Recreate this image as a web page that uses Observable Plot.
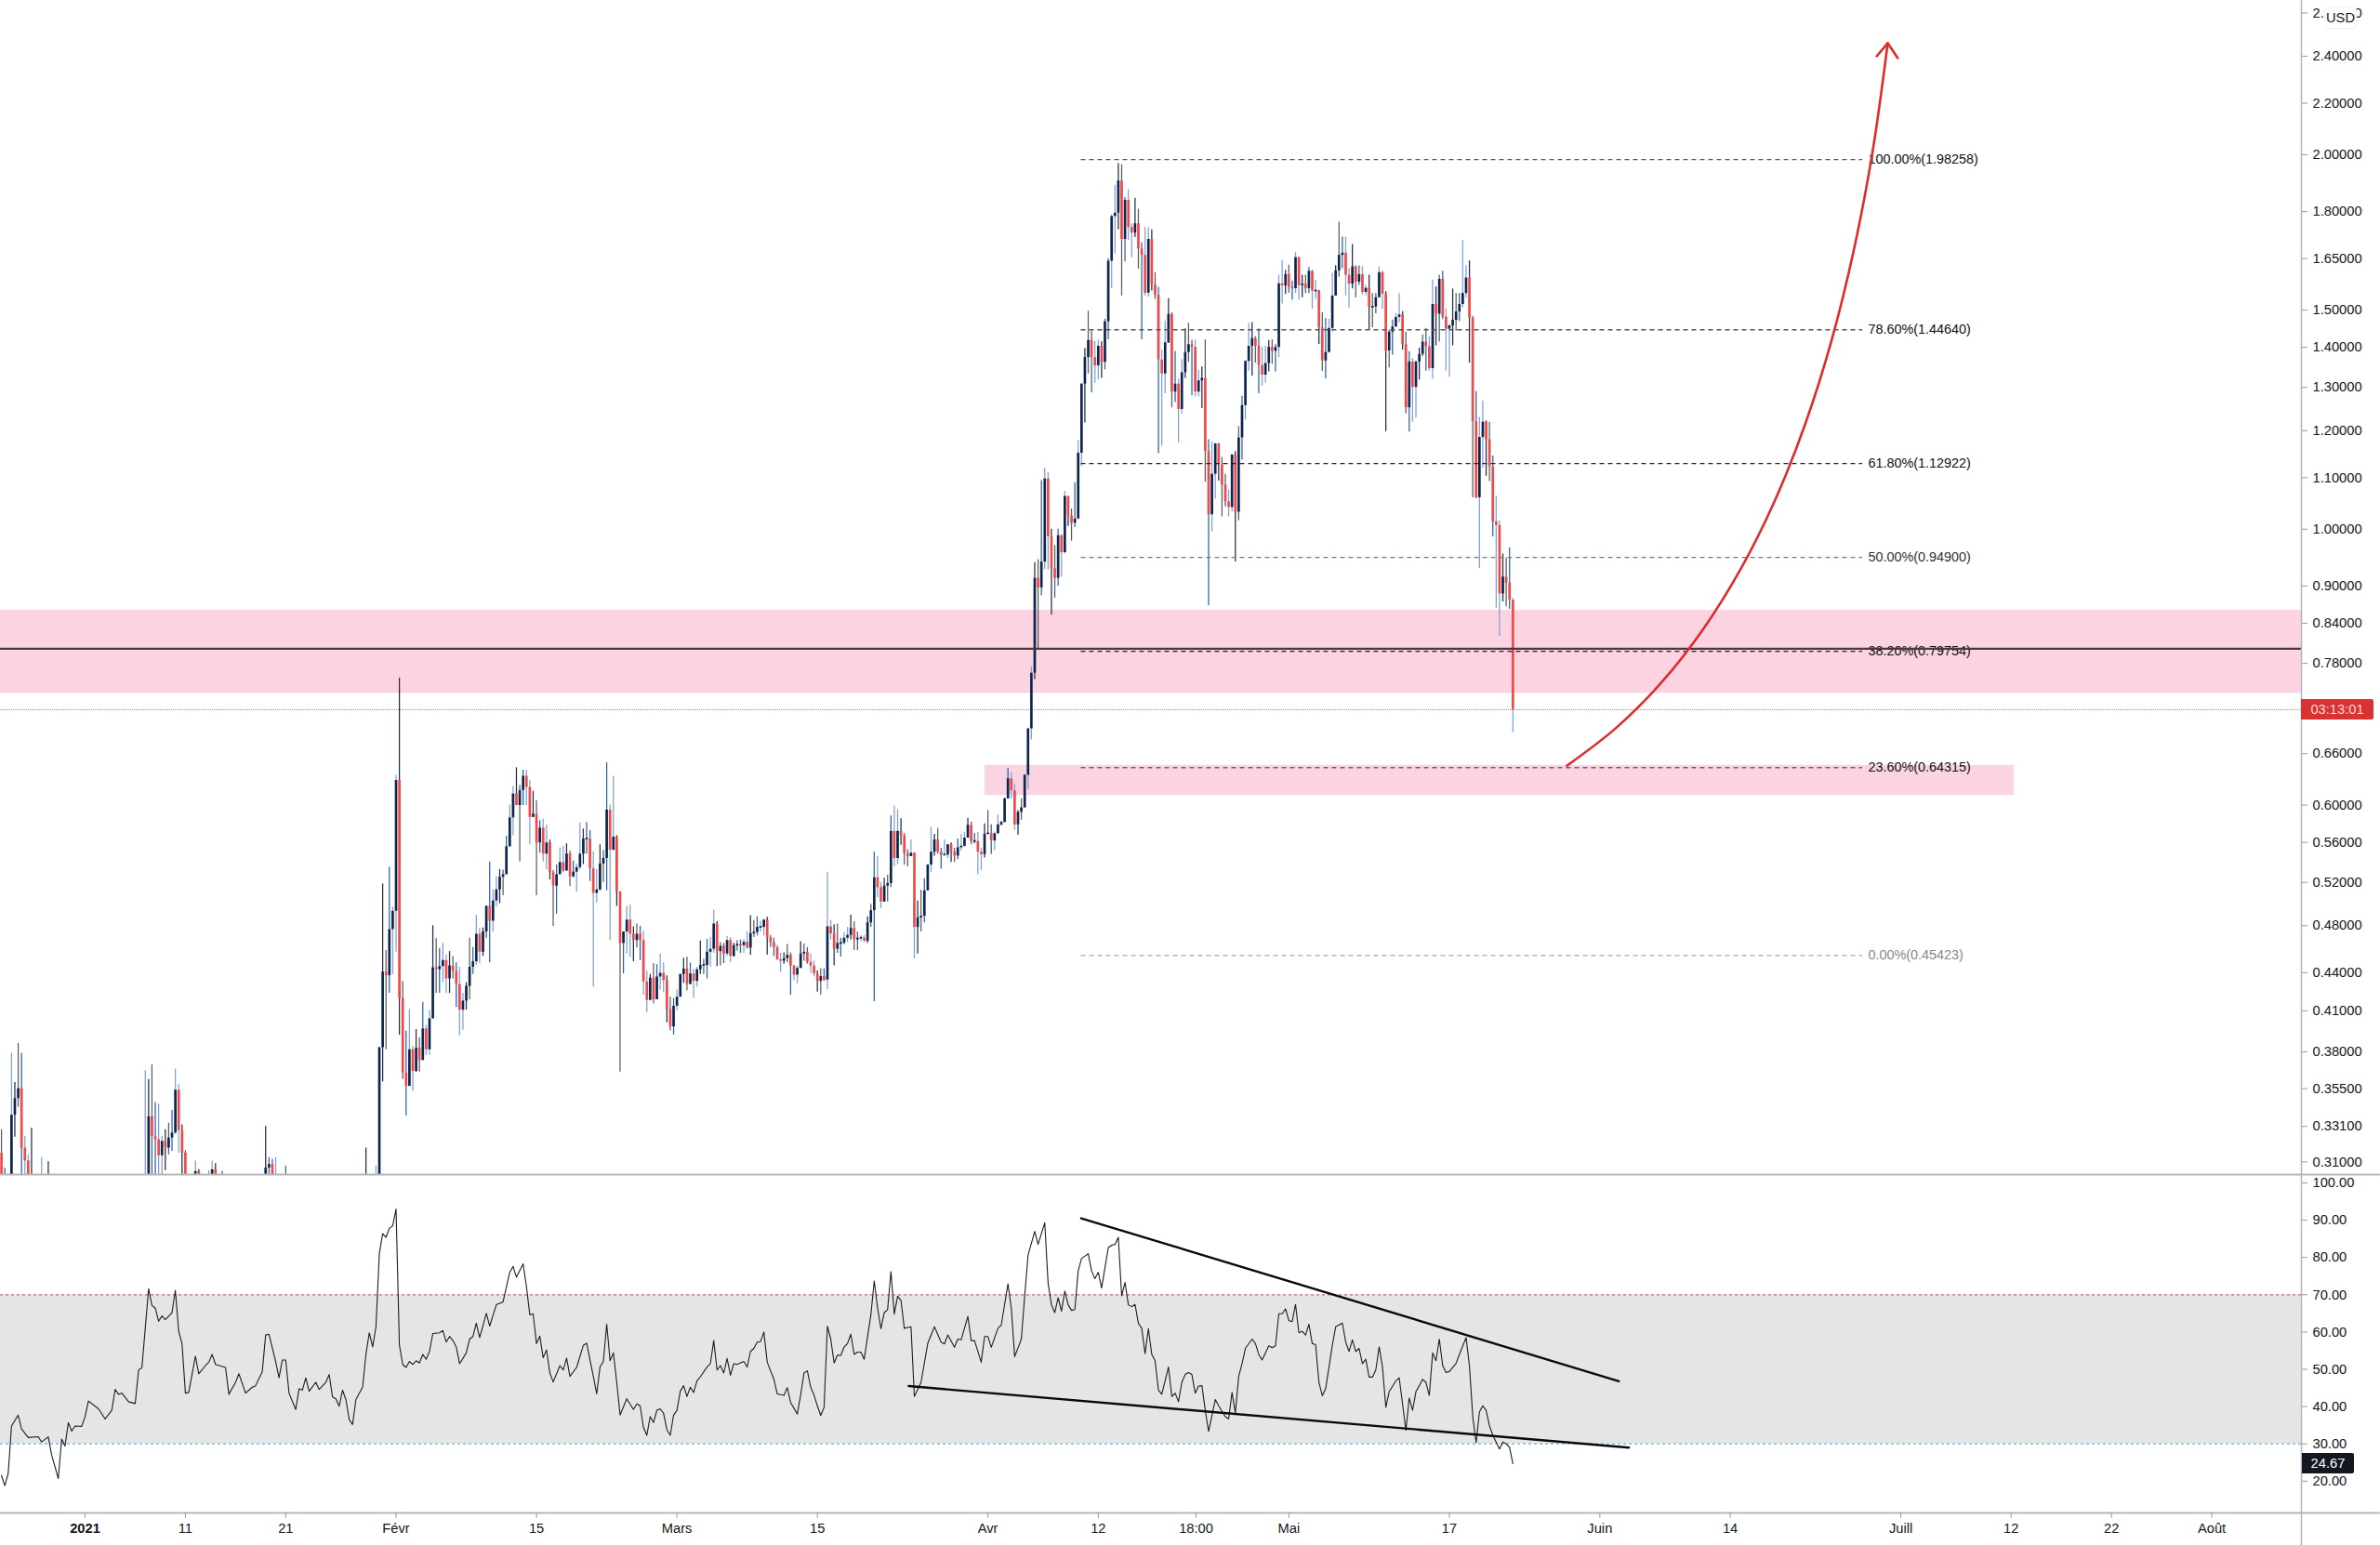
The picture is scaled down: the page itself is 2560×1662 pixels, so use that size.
<!DOCTYPE html>
<html>
<head>
<meta charset="utf-8">
<script src="https://cdn.jsdelivr.net/npm/d3@7"></script>
<script src="https://cdn.jsdelivr.net/npm/@observablehq/plot@0.6"></script>
<style>
html,body{margin:0;padding:0;background:#fff;overflow:hidden}
#chart{position:relative;width:2560px;height:1662px;font-family:"Liberation Sans",sans-serif}
#chart svg{display:block}
.tag{position:absolute;box-sizing:border-box;display:flex;align-items:center;justify-content:center;font-size:14.7px}
</style>
</head>
<body>
<div id="chart"></div>
<script>
// ---- 8-hour candles, one entry per candle; null = beyond the bottom of the price pane
const firstOpen = 0.315;
const closes = [
.29,null,null,.338,.3485,.355,.318,.3105,.295,null,
null,null,null,null,null,...Array(28).fill(null),
null,.337,.325,.323,.3135,.322,.318,.324,.327,
.354,.3285,.315,.29,null,null,.3045,.30,null,null,
null,.3055,.30,null,null,...Array(12).fill(null),
.3065,.3085,.30,null,null,null,null,...Array(23).fill(null),
null,null,null,null,.383,
.4405,.4375,.4765,.493,.628,.4195,.3655,.3565,.3815,.3665,
.3825,.374,.3965,.3815,.404,.444,.4425,.445,.45,.435,
.4455,.441,.4305,.4105,.4175,.429,.4445,.449,.4725,.457,
.4745,.4975,.484,.5025,.513,.525,.5275,.5555,.586,.6125,
.5995,.6165,.633,.62,.5865,.59,.5595,.575,.548,.5595,
.5295,.5165,.5275,.5395,.531,.548,.5255,.53,.5345,.548,
.5635,.5635,.5335,.5095,.513,.538,.5437,.5945,.552,.5655,
.511,.4645,.4745,.485,.4725,.467,.4725,.467,.4325,.418,
.4355,.4185,.4365,.4395,.4335,.411,.398,.4135,.4205,.4385,
.443,.4305,.439,.433,.4425,.446,.446,.457,.4595,.4815,
.4575,.462,.4555,.467,.4535,.4625,.4635,.4625,.4655,.4605,
.473,.474,.4785,.4785,.485,.4692,.4652,.461,.4505,.4495,
.4515,.4545,.4455,.438,.4435,.4555,.457,.4485,.4455,.439,
.433,.4368,.434,.479,.4728,.4595,.4645,.4645,.469,.4715,
.4775,.4675,.469,.469,.4665,.4825,.4935,.5245,.515,.5015,
.5165,.519,.5715,.5435,.5715,.5665,.5485,.5455,.549,.4785,
.487,.4885,.512,.537,.55,.5625,.55,.547,.547,.5575,
.55,.546,.5545,.556,.5645,.578,.561,.561,.55,.5475,
.5685,.5695,.5615,.569,.5785,.581,.607,.63,.616,.5785,
.592,.597,.634,.691,.766,.913,.897,.941,1.0975,.986,
.9295,.913,.988,.9575,1.0625,1.025,1.011,1.019,1.151,1.308,
1.374,1.418,1.374,1.353,1.403,1.362,1.468,1.642,1.784,1.795,
1.905,1.71,1.838,1.748,1.73,1.76,1.68,1.66,1.548,1.71,
1.572,1.542,1.368,1.333,1.412,1.488,1.289,1.308,1.248,1.336,
1.387,1.407,1.4,1.289,1.316,1.322,1.155,1.027,1.107,1.171,
1.126,1.085,1.052,1.041,1.147,1.032,1.184,1.257,1.364,1.403,
1.423,1.403,1.354,1.33,1.359,1.4,1.39,1.4,1.575,1.569,
1.602,1.565,1.5607,1.653,1.57,1.574,1.5607,1.612,1.554,1.554,
1.452,1.3655,1.387,1.45,1.54,1.613,1.66,1.667,1.6,1.574,
1.625,1.58,1.602,1.55,1.562,1.508,1.509,1.535,1.608,1.545,
1.391,1.44,1.454,1.48,1.487,1.407,1.252,1.363,1.3,1.363,
1.382,1.414,1.402,1.346,1.516,1.489,1.588,1.481,1.448,1.457,
1.472,1.495,1.516,1.547,1.592,1.478,1.22,1.06,1.185,1.219,
1.18,1.122,1.014,1.007,.887,.915,.905,.877,.716
];
const highs = [
.329,.3065,null,.379,.359,.386,.379,.325,.314,.33,
null,null,.3125,null,.31,...Array(28).fill(null),
.367,.361,.371,.346,.345,.325,.329,.333,.341,
.368,.358,.332,.3165,null,null,.3105,.3055,null,null,
.305,.3105,.309,null,.3045,...Array(12).fill(null),
.331,.3125,.3115,.3125,null,null,.3075,...Array(23).fill(null),
.318,null,null,.3075,.383,
.5185,.4585,.535,.497,.634,.759,.433,.395,.411,.384,
.396,.39,.4165,.399,.4105,.48,.4685,.46,.4645,.4545,
.4575,.4535,.448,.4445,.4235,.432,.469,.461,.4895,.478,
.478,.498,.54,.5125,.5255,.5325,.532,.5665,.6,.621,
.643,.6225,.64,.64,.628,.6155,.605,.583,.5845,.578,
.5625,.5315,.537,.5545,.556,.5585,.551,.541,.538,.5805,
.574,.581,.5725,.5505,.5325,.5575,.5515,.649,.6,.633,
.567,.511,.4745,.4975,.4985,.479,.4815,.4795,.475,.4415,
.4385,.4475,.4465,.4555,.448,.4375,.4205,.4195,.426,.439,
.452,.453,.448,.4425,.4445,.4665,.451,.468,.4695,.494,
.4835,.4652,.4645,.4705,.4695,.4645,.467,.4675,.4675,.4745,
.489,.4845,.488,.484,.4855,.4875,.4715,.469,.463,.456,
.4565,.4635,.4565,.4462,.4455,.466,.464,.461,.4555,.4495,
.4415,.4432,.4432,.53,.4848,.4808,.4815,.469,.474,.4785,
.4895,.4835,.4745,.4715,.4715,.488,.4995,.55,.5455,.52,
.524,.527,.588,.599,.595,.585,.5695,.5525,.5625,.5495,
.5025,.5125,.5235,.5375,.576,.5685,.5745,.554,.5625,.558,
.5595,.554,.5635,.5685,.5705,.5855,.5815,.5695,.5705,.554,
.5795,.594,.5785,.571,.5895,.582,.608,.6425,.637,.6235,
.594,.607,.635,.692,.775,.94,.945,1.094,1.12,1.11,
1.0,.97,1.0,.99,1.0725,1.062,1.038,1.09,1.179,1.31,
1.397,1.497,1.443,1.415,1.419,1.415,1.475,1.65,1.79,1.89,
1.967,1.963,1.848,1.875,1.76,1.845,1.808,1.70,1.748,1.747,
1.74,1.608,1.565,1.393,1.47,1.532,1.493,1.39,1.32,1.369,
1.449,1.464,1.419,1.419,1.342,1.35,1.42,1.18,1.176,1.172,
1.172,1.142,1.107,1.075,1.149,1.155,1.209,1.279,1.367,1.464,
1.466,1.428,1.449,1.4,1.403,1.418,1.42,1.407,1.6,1.645,
1.615,1.63,1.583,1.669,1.655,1.6,1.60,1.623,1.615,1.585,
1.556,1.493,1.477,1.475,1.606,1.629,1.765,1.717,1.717,1.62,
1.694,1.628,1.628,1.626,1.57,1.6,1.547,1.547,1.626,1.612,
1.552,1.445,1.473,1.49,1.547,1.496,1.44,1.389,1.372,1.365,
1.398,1.433,1.45,1.428,1.586,1.566,1.6,1.612,1.503,1.46,
1.56,1.547,1.547,1.706,1.629,1.643,1.483,1.29,1.23,1.268,
1.222,1.219,1.145,1.063,1.016,.955,.948,.966,.88
];
const lows = [
null,null,null,null,.3245,.343,null,null,null,null,
null,null,null,null,null,...Array(28).fill(null),
null,null,null,null,null,null,.305,.314,.316,
.326,.315,null,null,null,null,null,null,null,null,
null,null,null,null,null,...Array(12).fill(null),
null,null,null,null,null,null,null,...Array(23).fill(null),
null,null,null,null,null,
.3595,.3815,.4235,.4385,.457,.392,.361,.3375,.3565,.353,
.366,.366,.374,.3775,.3775,.404,.4235,.4235,.432,.4235,
.4235,.435,.4125,.3915,.3955,.4105,.4185,.4385,.446,.4475,
.4535,.469,.448,.4745,.497,.5,.5075,.5275,.555,.567,
.5995,.54,.5995,.5995,.5575,.5865,.5075,.549,.54,.5325,
.5225,.4795,.4905,.5275,.5295,.5325,.516,.5245,.511,.5325,
.5375,.548,.521,.4285,.5005,.512,.52,.512,.467,.551,
.4975,.366,.439,.4555,.4525,.449,.4605,.45,.422,.4085,
.418,.4155,.424,.426,.424,.401,.395,.392,.41,.4205,
.4315,.4255,.4305,.4195,.4285,.4385,.4385,.435,.4445,.456,
.445,.4455,.4475,.4535,.4485,.453,.458,.456,.456,.4595,
.4545,.4695,.471,.4745,.471,.4545,.461,.4535,.45,.4405,
.447,.448,.422,.4335,.431,.4435,.4495,.447,.4395,.4365,
.4245,.422,.433,.4265,.4675,.4455,.456,.453,.463,.4652,
.4675,.4585,.4585,.466,.4652,.4645,.4785,.417,.5055,.4955,
.5015,.5015,.515,.5355,.537,.557,.537,.5355,.5455,.4515,
.4555,.4745,.4825,.512,.5295,.546,.548,.533,.5465,.5435,
.5395,.5395,.5425,.551,.555,.5645,.5575,.5585,.5275,.5315,
.544,.5685,.5475,.5515,.5685,.5775,.581,.607,.607,.5725,
.5675,.5835,.597,.618,.677,.757,.80,.884,.928,.927,
.853,.88,.9,.915,.955,1.005,.978,1.003,1.018,1.123,
1.217,1.333,1.287,1.31,1.318,1.322,1.343,1.42,1.561,1.665,
1.74,1.54,1.64,1.706,1.653,1.716,1.618,1.42,1.54,1.536,
1.554,1.53,1.15,1.166,1.285,1.41,1.252,1.264,1.173,1.238,
1.322,1.362,1.28,1.2775,1.2775,1.25,1.091,.868,.995,1.057,
1.093,1.023,1.042,1.023,1.033,.941,1.016,1.137,1.224,1.34,
1.327,1.36,1.285,1.303,1.31,1.338,1.357,1.338,1.374,1.517,
1.544,1.548,1.528,1.5467,1.528,1.535,1.547,1.547,1.503,1.53,
1.408,1.339,1.321,1.385,1.44,1.54,1.594,1.62,1.54,1.506,
1.56,1.534,1.57,1.542,1.54,1.445,1.452,1.49,1.533,1.503,
1.198,1.348,1.38,1.452,1.465,1.393,1.238,1.197,1.219,1.229,
1.318,1.376,1.34,1.34,1.32,1.404,1.414,1.474,1.34,1.325,
1.404,1.443,1.469,1.506,1.534,1.36,1.06,1.058,.93,1.12,
1.103,1.092,.986,.864,.82,.874,.866,.862,.686
];
// ---- RSI turning points: candle number and value
const rsiIdx = [0,1,2,3,5,6,8,11,12,14,15,17,18,19,20,21,22,24,25,26,29,31,33,34,35,36,38,40,41,42,44,45,46,47,48,49,51,52,53,54,55,56,58,59,61,62,63,64,67,68,70,71,73,75,76,78,79,80,82,83,84,85,86,88,89,90,91,92,94,95,97,98,99,100,101,102,103,104,105,106,108,109,110,111,112,113,114,115,116,117,118,119,120,121,122,123,124,125,126,127,128,129,131,132,133,134,135,136,137,139,140,141,142,143,145,146,147,148,150,152,153,154,156,157,158,159,160,161,162,163,164,165,167,168,169,170,172,174,175,177,178,179,180,181,182,183,184,185,187,189,190,191,192,193,194,195,196,197,198,199,200,201,202,203,204,205,206,207,208,209,211,212,213,214,215,216,217,218,219,220,222,223,224,225,226,227,228,229,231,232,234,235,236,238,239,240,241,242,243,244,245,246,247,248,249,250,251,252,253,254,255,256,257,258,260,261,262,263,264,265,266,267,268,269,270,272,273,275,277,279,281,282,283,285,286,287,289,290,291,293,294,295,296,298,299,301,302,303,305,306,307,309,310,312,313,314,315,316,317,318,319,320,321,322,323,325,326,327,328,329,330,331,332,333,334,335,336,337,338,339,340,341,342,343,344,345,346,347,349,350,351,352,353,354,355,356,357,358,359,360,361,363,364,366,367,368,369,370,371,372,374,375,376,377,379,380,381,382,383,384,385,386,387,388,389,390,391,392,393,394,395,396,398,399,401,402,403,404,405,406,407,408,409,410,411,412,413,414,415,417,418,419,420,421,422,423,424,425,426,427,428,429,430,431,432,433,435,436,438,439,440,441,442,443,444,445,446,448,449,450,451,452];
const rsiVal = [21.5,18.8,22,34.8,37.7,34,31.7,31.9,30.5,31.9,27,20.7,31.3,29.4,35.7,33.4,34.8,34.7,37.3,41.5,39.4,36.7,39,44.6,43.3,43.6,41.3,40.8,49.8,50.4,71.6,67.1,66.4,62.9,64.3,63.3,65.2,71.2,60.2,56.9,43.6,43.8,53.5,48.8,51,51.9,54,51.3,50.5,43.3,46.5,48.8,43.6,45.2,45.6,49.4,59.2,59.4,52.1,47.7,52.5,52.5,43.6,39.2,44.8,44.4,47.7,44.1,46.5,44.6,46.5,48.6,42.6,42.1,40.1,44.4,41.9,36.5,35.2,41.9,45.2,54,59.8,56,61.4,81,86.4,85.4,87.8,88.5,93,56.5,51.3,50.5,52.1,51.3,52.3,51.7,54,52.7,54.8,59.6,59.8,60.4,57.3,58.8,57.7,56,51.5,54.4,58.1,58.8,62.4,58.5,65,61.6,64.5,67.3,68.1,76,77.6,74.7,78.3,72.2,64.6,64.9,56.9,58.9,53.1,55.2,49,46.6,51,49.8,53,48.1,50.5,56.4,57,48.1,43.4,50.6,52.1,62.1,52.3,54.4,46.5,37.7,42.1,39.2,40.7,40.2,34.4,32.3,37.3,35.7,39,39.4,38.2,33.8,32.3,37.7,39,44.1,45.6,42.7,45.2,43.8,46.9,48,50.6,51.5,57.7,49.8,51,49,52.9,48.4,51.5,51.3,52.1,50.6,54.8,55.6,57.3,57.4,60,51.9,47.3,43.4,43,45.1,41.1,38,43.1,49,49.6,45.2,43.1,40.2,37.6,39.8,61.6,58.1,51.7,53.8,53.7,56,56.9,59.4,54,54.6,54.6,52.7,64.6,73.7,66.4,60.9,65.2,66,76.2,64.8,69.6,68.5,61,61.4,42.7,46.5,56.9,61.4,57.3,56.8,59.2,55.9,58.1,57.9,64.2,57.7,57.7,51.9,58.8,58.8,55.9,61,61.9,72.9,66.4,53.4,58.1,69.7,80.6,87,83.5,89.3,73.1,67.3,65.2,69.2,65.6,71,67.3,65.8,66,76.4,79.7,81,76.4,74.3,76,71.8,77.2,82.6,83.3,83.5,85.4,69.7,73.3,67.3,66.8,67.4,62.3,61,54.2,60.9,54,52.3,44.4,43.3,50.6,42.7,43.6,41.3,46.5,48.6,49.1,48.6,43.6,45.5,45.6,39,33.3,41.9,40.2,37.3,36.7,43.8,38.3,48.1,51.5,55.6,58.1,56.9,54,52.5,56.3,55.8,56.3,64.9,64.9,66.2,63.1,62.8,67.4,59.8,60.2,59.2,62.1,56.9,56.6,46.5,42.9,44.8,56.4,61.4,62.4,57.3,54.8,57.9,54.8,55.6,51.5,52.7,47.9,47.9,49.8,56,50.6,39.8,44,46.9,47.7,40.7,33.6,42.3,39,44,45.6,47.3,46.5,43,54.4,52.3,58.1,51,49.1,49.4,51.6,54,58.5,51,37.3,30.3,38.6,40.2,39,34.8,32.3,28.6,30.5,30,29,24.67];

// ---- axis ticks
const priceTicks = [2.6,2.4,2.2,2.0,1.8,1.65,1.5,1.4,1.3,1.2,1.1,1.0,.9,.84,.78,.66,.6,.56,.52,.48,.44,.41,.38,.355,.331,.31];
const rsiTicks = [100,90,80,70,60,50,40,30,20];
const xTickDays = [10,20,31,45,59,73,90,101,110.75,120,136,151,164,181,192,202,212];
const xTickLabels = ["11","21","Févr","15","Mars","15","Avr","12","18:00","Mai","17","Juin","14","Juill","12","22","Août"];
const yearDay = 0, yearLabel = "2021";

// ---- drawings
const fibPct = ["100.00","78.60","61.80","50.00","38.20","23.60","0.00"];
const fibVal = [1.98258,1.4464,1.12922,0.949,0.79754,0.64315,0.45423];
const fibStroke = ["#555","#555","#222","#777","#222","#666","#aaa"];
const fibText = ["#111","#111","#111","#333","#111","#111","#888"];
const fibDay1 = 99.3, fibDay2 = 177.2, fibLabelDay = 177.75;
const zoneTop = [0.8604, 0.7378];
const zoneLow = [0.6458, 0.6109];
const zoneLowDays = [89.7, 192.3];
const levelLine = 0.8014;
const lastPrice = 0.716, countdown = "03:13:01";
const arrowDays = [147.73,152.64,157.16,161.31,165.08,168.49,171.48,174.11,176.35,178.22,179.7];
const arrowPrices = [.6455,.6924,.7532,.8312,.93,1.0562,1.2152,1.419,1.6806,2.0183,2.4588];
const headDays = [178.6,179.7,180.7];
const headPrices = [2.40,2.4588,2.392];
const upperDays = [99.3,152.9], upperVals = [90.5,46.8];
const lowerDays = [82.1,153.9], lowerVals = [45.5,29];
const rsiOver = 70, rsiUnder = 30, rsiLast = 24.67;

// ---- helpers
const WIDTH = 2560, AXIS_X = 2475, PANE_H = 1263, RSI_SVG_H = 399, RSI_BOTTOM = 35;
const date = d => new Date(Date.UTC(2021,0,1) + d * 864e5);
const candleDay = i => -25/3 + i/3;
const xDomain = [date(-8.434), date(220.94)];
const xEdgeL = date(-8.434), xEdgeR = date(228.8), xAxisEnd = date(220.94);
const FLOOR = 0.28;
const wickCols = ["#5c5c5c","#2a60b0","#7f9fd8","#7f9fd8","#222c4a"];
const UP = "#0f2550", DOWN = "#ef4a4a";
const F = "\"Liberation Sans\", sans-serif";

const candles = closes.map((c,i) => {
  const o = i === 0 ? firstOpen : (closes[i-1] ?? FLOOR);
  return {i, t: date(candleDay(i)), o, c, h: highs[i], l: lows[i] ?? FLOOR, up: c !== null && c >= o};
});
const bodies = candles.filter(d => d.c !== null).map(d => {
  let lo = Math.min(d.o, d.c), hi = Math.max(d.o, d.c);
  if (hi / lo < 1.003) { const m = Math.sqrt(hi*lo); lo = m/1.0015; hi = m*1.0015; }
  return {...d, lo, hi};
});
const wicks = candles.filter(d => d.h !== null);
const fibs = fibVal.map((v,k) => ({v, label: fibPct[k] + "%(" + v.toFixed(5) + ")", s: fibStroke[k], tc: fibText[k]}));
const rsiSeries = rsiIdx.map((i,k) => ({t: date(candleDay(i)), v: rsiVal[k]}));
const arrow = arrowDays.map((d,k) => ({t: date(d), p: arrowPrices[k]}));
const head = headDays.map((d,k) => ({t: date(d), p: headPrices[k]}));

const priceTop = 2.661, priceBottom = 0.3028;

const main = Plot.plot({
  width: WIDTH, height: PANE_H, marginLeft: 0, marginRight: WIDTH - AXIS_X, marginTop: 0, marginBottom: 0,
  style: {background: "transparent", fontFamily: F, fontSize: "14.7px", color: "#131722", overflow: "visible"},
  x: {type: "utc", domain: xDomain, axis: null},
  y: {type: "log", domain: [priceBottom, priceTop], range: [PANE_H, 0], axis: null},
  marks: [
    Plot.rect([0], {x1: xEdgeL, x2: xAxisEnd, y1: zoneTop[1], y2: zoneTop[0], fill: "#fcd3e1"}),
    Plot.rect([0], {x1: date(zoneLowDays[0]), x2: date(zoneLowDays[1]), y1: zoneLow[1], y2: zoneLow[0], fill: "#fcd3e1"}),
    Plot.ruleY([lastPrice], {stroke: "#b9749a", strokeWidth: 1, strokeDasharray: "1,1"}),
    Plot.ruleX(wicks, {
      x: "t", y1: "l", y2: "h", clip: true,
      stroke: d => wickCols[d.i % 5], strokeWidth: 1.25
    }),
    Plot.ruleX(bodies, {
      x: "t", y1: "lo", y2: "hi", clip: true,
      stroke: d => d.up ? UP : DOWN, strokeWidth: 2.7
    }),
    Plot.ruleY(fibs, {x1: date(fibDay1), x2: date(fibDay2), y: "v", stroke: "s", strokeWidth: 1.3, strokeDasharray: "5,4"}),
    Plot.text(fibs, {x: date(fibLabelDay), y: "v", text: "label", fill: "tc", textAnchor: "start", fontSize: 14.4}),
    Plot.ruleY([levelLine], {stroke: "#4a3a40", strokeWidth: 2.4}),
    Plot.line(arrow, {x: "t", y: "p", stroke: "#dd2c2c", strokeWidth: 2.6, curve: "catmull-rom"}),
    Plot.line(head, {x: "t", y: "p", stroke: "#dd2c2c", strokeWidth: 2.6}),
    Plot.ruleY([priceBottom], {x1: xEdgeL, x2: xEdgeR, stroke: "#b5b5b5", strokeWidth: 2}),
    Plot.ruleX([xAxisEnd], {stroke: "#b2b5be", strokeWidth: 1.5}),
    Plot.axisY(priceTicks, {
      anchor: "right", tickSize: 6, tickPadding: 6, stroke: "#9a9a9a", fill: "#131722",
      tickFormat: d3.format(".5f"), label: null, fontSize: 14.7
    })
  ]
});

const rsiTop = 102.24, rsiBottomVal = 11.47, rsiPageEnd = 2.74;
const rsi = Plot.plot({
  width: WIDTH, height: RSI_SVG_H, marginLeft: 0, marginRight: WIDTH - AXIS_X, marginTop: 0, marginBottom: RSI_BOTTOM,
  style: {background: "transparent", fontFamily: F, fontSize: "14.7px", color: "#131722", overflow: "visible"},
  x: {type: "utc", domain: xDomain, axis: null},
  y: {domain: [rsiBottomVal, rsiTop], range: [RSI_SVG_H - RSI_BOTTOM, 0], axis: null},
  marks: [
    Plot.rect([0], {x1: xEdgeL, x2: xAxisEnd, y1: rsiUnder, y2: rsiOver, fill: "#e5e5e6"}),
    Plot.ruleY([rsiOver], {stroke: "#c96a6a", strokeWidth: 1.3, strokeDasharray: "3,3"}),
    Plot.ruleY([rsiUnder], {stroke: "#63aee6", strokeWidth: 1.3, strokeDasharray: "3,3"}),
    Plot.line(rsiSeries, {x: "t", y: "v", stroke: "#1e1e22", strokeWidth: 1.1}),
    Plot.line(upperDays.map((d,k) => ({t: date(d), v: upperVals[k]})), {x: "t", y: "v", stroke: "#0a0a0a", strokeWidth: 2.4}),
    Plot.line(lowerDays.map((d,k) => ({t: date(d), v: lowerVals[k]})), {x: "t", y: "v", stroke: "#0a0a0a", strokeWidth: 2.4}),
    Plot.ruleY([rsiBottomVal], {x1: xEdgeL, x2: xEdgeR, stroke: "#b5b5b5", strokeWidth: 2}),
    Plot.ruleX([xAxisEnd], {y1: rsiPageEnd, y2: rsiTop, stroke: "#b2b5be", strokeWidth: 1.5}),
    Plot.axisY(rsiTicks, {
      anchor: "right", tickSize: 6, tickPadding: 6, stroke: "#9a9a9a", fill: "#131722",
      tickFormat: d3.format(".2f"), label: null, fontSize: 14.7
    }),
    Plot.axisX(xTickDays.map(date), {
      anchor: "bottom", tickSize: 6, tickPadding: 5, stroke: "#9a9a9a", fill: "#131722", label: null,
      tickFormat: d => xTickLabels[xTickDays.findIndex(x => +date(x) === +d)], fontSize: 14.7
    }),
    Plot.axisX([date(yearDay)], {
      anchor: "bottom", tickSize: 6, tickPadding: 5, stroke: "#9a9a9a", fill: "#131722", label: null,
      tickFormat: () => yearLabel, fontSize: 14.7, fontWeight: "bold"
    })
  ]
});

const root = document.getElementById("chart");
root.append(main, rsi);

function tag(text, left, top, w, h, css) {
  const el = document.createElement("div");
  el.className = "tag";
  el.textContent = text;
  el.style.cssText = `left:${left}px;top:${top}px;width:${w}px;height:${h}px;${css}`;
  root.append(el);
}
tag("USD", 2500, 7, 35, 24, "background:#fff;border:1px solid #eef0f4;border-radius:4px;color:#131722;");
const yLast = main.scale("y").apply(lastPrice);
tag(countdown, AXIS_X, yLast - 11, 78, 22, "background:#d83232;color:#ffd9d9;border-radius:0 2px 2px 0;");
const yRsi = PANE_H + rsi.scale("y").apply(rsiLast);
tag(rsiLast.toFixed(2), AXIS_X + 1, yRsi - 11, 56, 22, "background:#131722;color:#fff;border-radius:0 2px 2px 0;");
</script>
</body>
</html>
